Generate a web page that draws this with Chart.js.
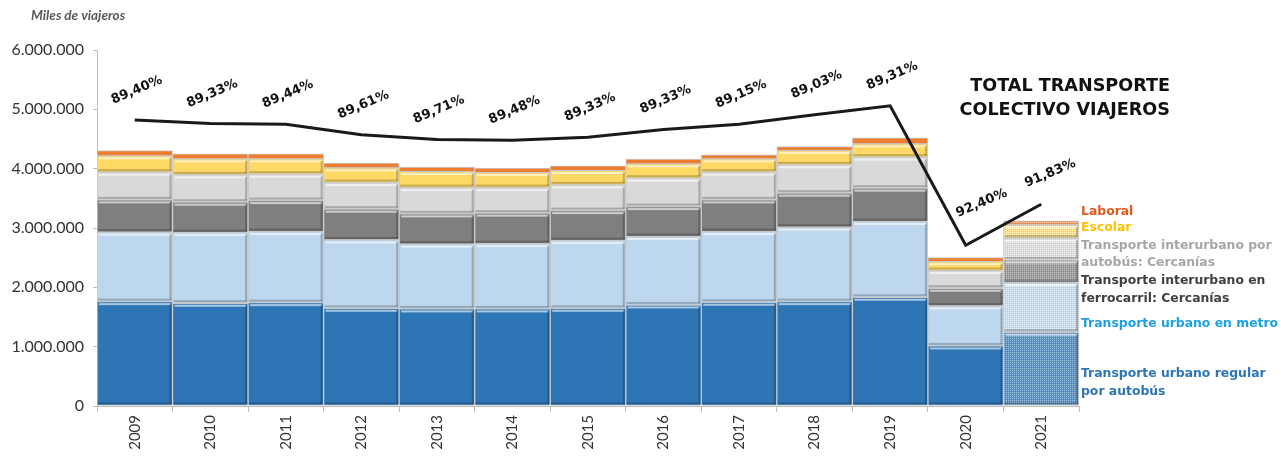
<!DOCTYPE html>
<html lang="es">
<head>
<meta charset="utf-8">
<title>Total transporte colectivo viajeros</title>
<script src="https://cdn.jsdelivr.net/npm/chart.js@4.4.1/dist/chart.umd.min.js"></script>
<style>
  html, body { margin: 0; padding: 0; background: #fff; }
  #wrap { position: relative; width: 1281px; height: 456px; }
</style>
</head>
<body>
<div id="wrap"><canvas id="chart" width="1281" height="456"></canvas></div>
<script>
// miles de viajeros
const years = ['2009', '2010', '2011', '2012', '2013', '2014', '2015', '2016', '2017', '2018', '2019', '2020', '2021'];
const busUrbano   = [1759000, 1732000, 1742000, 1647000, 1636000, 1636000, 1647000, 1703000, 1749000, 1759000, 1833000, 1012000, 1243000];
const metro       = [1170000, 1190000, 1197000, 1152000, 1091000, 1101000, 1141000, 1152000, 1190000, 1254000, 1275000, 674000, 836000];
const ferrocarril = [545000, 513000, 523000, 518000, 511000, 513000, 505000, 506000, 535000, 574000, 563000, 299000, 383000];
const interBus    = [467000, 460000, 445000, 449000, 443000, 431000, 434000, 479000, 467000, 477000, 523000, 297000, 366000];
const escolar     = [275000, 270000, 258000, 247000, 270000, 253000, 241000, 241000, 224000, 241000, 224000, 151000, 224000];
const laboral     = [89000, 85000, 85000, 80000, 74000, 74000, 79000, 79000, 68000, 68000, 101000, 68000, 68000];
const totalViajeros = [4820000, 4760000, 4750000, 4570000, 4490000, 4480000, 4530000, 4660000, 4750000, 4910000, 5060000, 2710000, 3400000];
const pctColectivo  = [89.40, 89.33, 89.44, 89.61, 89.71, 89.48, 89.33, 89.33, 89.15, 89.03, 89.31, 92.40, 91.83];
const yTicks = [0, 1000000, 2000000, 3000000, 4000000, 5000000, 6000000];

function fmtMiles(v) {
  return String(Math.round(v)).replace(/\B(?=(\d{3})+(?!\d))/g, '.');
}
function fmtPct(v) {
  return v.toFixed(2).replace('.', ',') + '%';
}

// 2021 bars are drawn lighter, with a dotted texture
function dotted(color) {
  const c = document.createElement('canvas');
  c.width = 2; c.height = 2;
  const g = c.getContext('2d');
  g.fillStyle = color; g.fillRect(0, 0, 2, 2);
  g.fillStyle = 'rgba(255,255,255,0.22)'; g.fillRect(0, 0, 2, 2);
  g.fillStyle = 'rgba(255,255,255,0.4)'; g.fillRect(0, 0, 1, 1);
  g.fillStyle = 'rgba(0,0,0,0.1)'; g.fillRect(1, 1, 1, 1);
  return g.createPattern(c, 'repeat');
}
function fills(color) {
  return years.map(function(y, i) { return i === years.length - 1 ? dotted(color) : color; });
}
function bar(label, data, color) {
  return {
    type: 'bar', label: label, data: data,
    backgroundColor: fills(color),
    borderColor: '#c9c9c9', borderWidth: 1, borderSkipped: false,
    barPercentage: 1, categoryPercentage: 1, order: 1
  };
}

// ── bevelled look of the Excel bars ──────────────────────────────────────────
const bevel = {
  id: 'bevel',
  afterDatasetDraw(chart, args) {
    const meta = args.meta;
    if (meta.type !== 'bar') return;
    const ctx = chart.ctx;
    ctx.save();
    meta.data.forEach(function(el) {
      const p = el.getProps(['x', 'y', 'base', 'width'], true);
      const l = p.x - p.width / 2, r = p.x + p.width / 2;
      const t = Math.min(p.y, p.base), b = Math.max(p.y, p.base);
      if (b - t < 8) return;
      ctx.fillStyle = 'rgba(255,255,255,0.6)';
      ctx.fillRect(l + 2, t + 1.5, r - l - 4, 2);
      ctx.fillStyle = 'rgba(0,0,0,0.22)';
      ctx.fillRect(l + 1, b - 3, r - l - 2, 2);
      ctx.fillRect(r - 3, t + 2, 2, b - t - 4);
    });
    ctx.restore();
  }
};

// ── percentage labels over the line ──────────────────────────────────────────
const pctLabels = {
  id: 'pctLabels',
  afterDatasetsDraw(chart) {
    const meta = chart.getDatasetMeta(6);
    const ctx = chart.ctx;
    ctx.save();
    ctx.font = 'bold 13px "DejaVu Sans"';
    ctx.fillStyle = '#111';
    ctx.textAlign = 'center';
    ctx.textBaseline = 'middle';
    meta.data.forEach(function(pt, i) {
      let dx = 2, dy = -30;
      if (i === 11) { dx = 16; dy = -42; }
      if (i === 12) { dx = 9; dy = -31; }
      ctx.save();
      ctx.translate(pt.x + dx, pt.y + dy);
      ctx.rotate(-23 * Math.PI / 180);
      ctx.fillText(fmtPct(pctColectivo[i]), 0, 0);
      ctx.restore();
    });
    ctx.restore();
  }
};

// ── title, unit and side legend ──────────────────────────────────────────────
const legendRows = [
  { text: 'Laboral', color: '#E2581D', y: 212 },
  { text: 'Escolar', color: '#FFC000', y: 228 },
  { text: 'Transporte interurbano por', color: '#A6A6A6', y: 246 },
  { text: 'autobús: Cercanías', color: '#A6A6A6', y: 263 },
  { text: 'Transporte interurbano en', color: '#404040', y: 281 },
  { text: 'ferrocarril: Cercanías', color: '#404040', y: 299 },
  { text: 'Transporte urbano en metro', color: '#1BA1E2', y: 324 },
  { text: 'Transporte urbano regular', color: '#2E75B6', y: 374 },
  { text: 'por autobús', color: '#2E75B6', y: 392 }
];
const notes = {
  id: 'notes',
  afterDraw(chart) {
    const ctx = chart.ctx;
    ctx.save();
    ctx.textBaseline = 'middle';
    ctx.font = 'italic bold 13.5px Lato';
    ctx.fillStyle = '#595959';
    ctx.textAlign = 'left';
    ctx.fillText('Miles de viajeros', 31, 16);

    ctx.font = 'bold 17.6px "DejaVu Sans"';
    ctx.fillStyle = '#111';
    ctx.textAlign = 'right';
    ctx.fillText('TOTAL TRANSPORTE', 1170, 86);
    ctx.fillText('COLECTIVO VIAJEROS', 1170, 110);

    ctx.font = 'bold 12.4px "DejaVu Sans"';
    ctx.textAlign = 'left';
    legendRows.forEach(function(r) {
      ctx.fillStyle = r.color;
      ctx.fillText(r.text, 1081, r.y);
    });
    ctx.restore();
  }
};

new Chart(document.getElementById('chart'), {
  data: {
    labels: years,
    datasets: [
      bar('Transporte urbano regular por autobús', busUrbano, '#2E75B6'),
      bar('Transporte urbano en metro', metro, '#BDD7EE'),
      bar('Transporte interurbano en ferrocarril: Cercanías', ferrocarril, '#7F7F7F'),
      bar('Transporte interurbano por autobús: Cercanías', interBus, '#D9D9D9'),
      bar('Escolar', escolar, '#FFD966'),
      bar('Laboral', laboral, '#ED7D31'),
      {
        type: 'line', label: 'Total', data: totalViajeros,
        borderColor: '#1a1a1a', borderWidth: 3, pointRadius: 0,
        tension: 0, stack: 'total', order: 0
      }
    ]
  },
  options: {
    responsive: false,
    animation: false,
    layout: { padding: { top: 50, right: 202, left: 0, bottom: 0 } },
    plugins: { legend: { display: false }, tooltip: { enabled: false } },
    scales: {
      x: {
        stacked: true,
        grid: { offset: true, drawOnChartArea: false, tickLength: 6, color: '#bfbfbf' },
        border: { color: '#bfbfbf' },
        ticks: { minRotation: 90, maxRotation: 90, color: '#333', font: { family: 'Lato', size: 15 }, padding: 3 },
        afterFit(s) { s.height = 50; }
      },
      y: {
        stacked: true, min: 0, max: 6000000,
        afterBuildTicks(s) { s.ticks = yTicks.map(function(v) { return { value: v }; }); },
        ticks: { color: '#333', font: { family: 'Lato', size: 16 }, padding: 9, callback: fmtMiles },
        grid: { drawOnChartArea: false, tickLength: 4, color: '#bfbfbf' },
        border: { color: '#bfbfbf' },
        afterFit(s) { s.width = 97; }
      }
    }
  },
  plugins: [bevel, pctLabels, notes]
});
</script>
</body>
</html>
